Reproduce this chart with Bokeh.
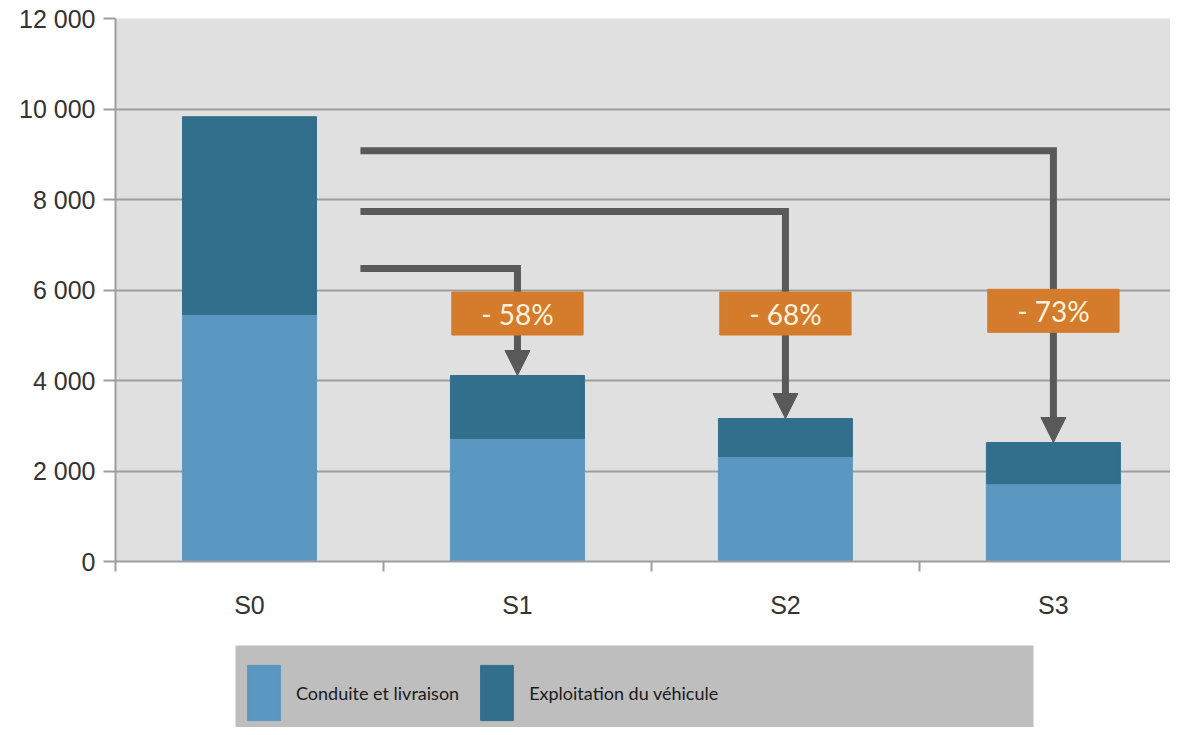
from bokeh.plotting import figure
from bokeh.layouts import column
from bokeh.models import (ColumnDataSource, FixedTicker, Legend, LegendItem, Arrow, NormalHead, Range1d)
from bokeh.core.properties import value
from bokeh.embed import file_html
from bokeh.resources import INLINE

# ---- data ----
scenarios = ["S0", "S1", "S2", "S3"]
conduite = [5460, 2720, 2320, 1720]
exploitation = [4370, 1390, 840, 910]
series_names = ["Conduite et livraison", "Exploitation du véhicule"]
reductions = ["- 58%", "- 68%", "- 73%"]
arrow_levels = [6475, 7735, 9080]
y_ticks = [0, 2000, 4000, 6000, 8000, 10000, 12000]
y_tick_labels = ["0", "2 000", "4 000", "6 000", "8 000", "10 000", "12 000"]

LIGHT = "#5A98C2"
DARK = "#326F8D"
ORANGE = "#D47B2C"
GRID = "#9E9E9E"
ARROW = "#595959"

xs = list(range(len(scenarios)))
totals = [a + b for a, b in zip(conduite, exploitation)]

src = ColumnDataSource(dict(x=xs, conduite=conduite, exploitation=exploitation))

p = figure(width=1170, height=645, output_backend="svg", toolbar_location=None,
           x_range=Range1d(-0.5, 3.437), y_range=Range1d(0, 12000),
           min_border_left=115, min_border_top=18, min_border_bottom=84, min_border_right=0)
p.frame_align = False
p.background_fill_color = "#E0E0E0"
p.border_fill_color = "white"
p.outline_line_color = None

r = p.vbar_stack(["conduite", "exploitation"], x="x", width=0.5, source=src,
                 color=[LIGHT, DARK], line_color=[LIGHT, DARK])

# axes
p.yaxis.ticker = FixedTicker(ticks=y_ticks)
p.yaxis.major_label_overrides = {t: l for t, l in zip(y_ticks, y_tick_labels)}
p.yaxis.minor_tick_line_color = None
p.yaxis.major_tick_in = 0
p.yaxis.major_tick_out = 12
p.yaxis.major_label_standoff = 8
p.xaxis.ticker = FixedTicker(ticks=xs, minor_ticks=[-0.5, 0.5, 1.5, 2.5, 3.5])
p.xaxis.major_label_overrides = {i: s for i, s in enumerate(scenarios)}
p.xaxis.major_tick_in = 0
p.xaxis.major_tick_out = 0
p.xaxis.minor_tick_in = 0
p.xaxis.minor_tick_out = 10
p.xaxis.major_label_standoff = 19
for ax in (p.xaxis, p.yaxis):
    ax.axis_line_color = GRID
    ax.axis_line_width = 2
    ax.major_tick_line_color = GRID
    ax.major_tick_line_width = 2
    ax.minor_tick_line_width = 2
    ax.major_label_text_font = "Liberation Sans"
    ax.major_label_text_font_size = "25px"
    ax.major_label_text_color = "#333333"
p.xaxis.minor_tick_line_color = GRID

p.xgrid.visible = False
p.ygrid.ticker = FixedTicker(ticks=y_ticks)
p.ygrid.grid_line_color = GRID
p.ygrid.grid_line_width = 2

# arrows
start_x = 0.414
head_len = 24 / 45.25 * 1000
for i, lvl in enumerate(arrow_levels):
    tx = xs[i + 1]
    tip = totals[i + 1]
    p.line([start_x, tx, tx], [lvl, lvl, tip + head_len * 0.9], line_color=ARROW,
           line_width=7, line_join="miter", line_cap="butt")
    p.add_layout(Arrow(x_start=tx, y_start=tip + head_len * 2, x_end=tx, y_end=tip,
                       line_alpha=0, line_width=0,
                       end=NormalHead(size=25, fill_color=ARROW, line_color=ARROW, line_width=1)))

# reduction boxes
box_y = [5480, 5480, 5540]
bsrc = ColumnDataSource(dict(x=xs[1:], y=box_y, t=reductions))
p.rect(x="x", y="y", width=0.49, height=950, source=bsrc, fill_color=ORANGE, line_color=ORANGE)
p.text(x="x", y="y", text="t", source=bsrc, text_align="center", text_baseline="middle",
       text_color="#FDF3DC", text_font=value("Lato"), text_font_size="28px")

# legend panel (grey box under the chart)
p2 = figure(width=1170, height=82, output_backend="svg", toolbar_location=None,
            x_axis_type=None, y_axis_type=None,
            x_range=Range1d(-0.5, 3.437), y_range=Range1d(0, 12000),
            min_border_left=235, min_border_right=137, min_border_top=0, min_border_bottom=0)
p2.frame_align = False
p2.background_fill_color = "#BEBEBE"
p2.border_fill_color = "white"
p2.outline_line_color = None
p2.grid.visible = False
proxy = p2.vbar_stack(["conduite", "exploitation"], x="x", width=0.5, source=src,
                      color=[LIGHT, DARK], line_color=[LIGHT, DARK])
for pr in proxy:
    pr.visible = False
legend = Legend(items=[LegendItem(label=series_names[0], renderers=[proxy[0]]),
                       LegendItem(label=series_names[1], renderers=[proxy[1]])],
                orientation="horizontal", location=(8, 0),
                background_fill_alpha=0, border_line_color=None,
                inactive_fill_alpha=0,
                glyph_width=41, glyph_height=69, label_height=69,
                label_standoff=12, spacing=17, padding=12, margin=0,
                label_text_font="Lato", label_text_font_size="18px",
                label_text_color="#1A1A1A")
p2.add_layout(legend, "center")

open("out.html", "w").write(file_html(column(p, p2, spacing=0), INLINE))
